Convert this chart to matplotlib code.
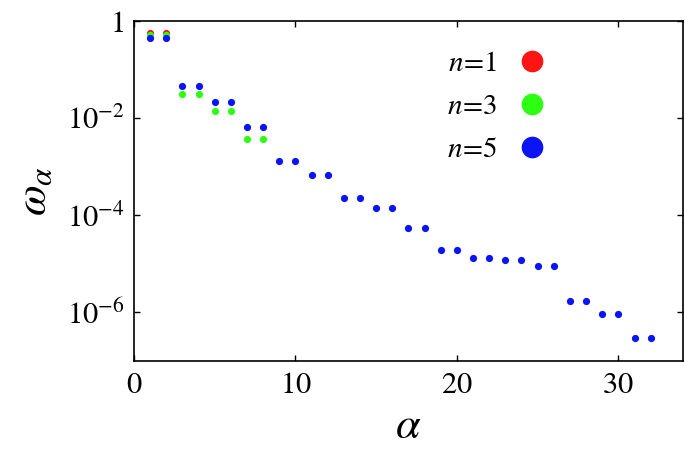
import matplotlib
matplotlib.use('Agg')
import matplotlib.pyplot as plt

# Weights (log scale)
alpha_n1 = [1, 2]
omega_n1 = [0.55, 0.55]

alpha_n3 = [1, 2, 3, 4, 5, 6, 7, 8]
omega_n3 = [0.50, 0.50, 0.031, 0.031, 0.014, 0.014, 0.0037, 0.0037]

alpha_n5 = list(range(1, 33))
omega_n5 = [0.44, 0.44, 0.045, 0.045, 0.0214, 0.0214, 0.0064, 0.0064,
            1.27e-3, 1.27e-3, 6.6e-4, 6.6e-4, 2.3e-4, 2.3e-4, 1.43e-4, 1.43e-4,
            5.5e-5, 5.5e-5, 1.94e-5, 1.94e-5, 1.32e-5, 1.32e-5, 1.2e-5, 1.2e-5,
            8.9e-6, 8.9e-6, 1.7e-6, 1.7e-6, 9.2e-7, 9.2e-7, 2.95e-7, 2.95e-7]

series_labels = [r'$n\!=\!1$', r'$n\!=\!3$', r'$n\!=\!5$']
series_colors = ['#ff1414', '#2cff10', '#0a14f5']

x_ticks = [0, 10, 20, 30]
y_ticks = [1, 1e-2, 1e-4, 1e-6]
y_tick_labels = ['$1$', '$10^{-2}$', '$10^{-4}$', '$10^{-6}$']

plt.rcParams['font.family'] = ['Liberation Serif', 'DejaVu Serif']
plt.rcParams['mathtext.fontset'] = 'stix'

fig = plt.figure(figsize=(6.85, 4.5), dpi=100)
ax = fig.add_axes([0.1956, 0.198, 0.8014, 0.756])

series = [(alpha_n1, omega_n1), (alpha_n3, omega_n3), (alpha_n5, omega_n5)]
for (xs, ys), label, color in zip(series, series_labels, series_colors):
    ax.plot(xs, ys, 'o', color=color, markersize=5.2, markeredgewidth=0,
            label=label, linestyle='none')

ax.set_yscale('log')
ax.set_xlim(0, 34)
ax.set_ylim(1e-7, 1)
ax.set_xticks(x_ticks)
ax.set_xticklabels([f'${t}$' for t in x_ticks])
ax.set_yticks(y_ticks)
ax.set_yticklabels(y_tick_labels)
ax.minorticks_off()
ax.tick_params(direction='in', length=4, width=1, labelsize=22,
               top=True, right=True, pad=7)
for spine in ax.spines.values():
    spine.set_linewidth(1.2)

ax.set_xlabel(r'$\alpha$', fontsize=32, labelpad=5)
ax.set_ylabel(r'$\omega_\alpha$', fontsize=32, labelpad=8)

ax.legend(loc='upper right', bbox_to_anchor=(0.80, 0.99), frameon=False,
          markerscale=3.0, fontsize=21, markerfirst=False,
          handletextpad=0.7, labelspacing=0.58, handlelength=1.0)

fig.savefig('out.png', dpi=100)
